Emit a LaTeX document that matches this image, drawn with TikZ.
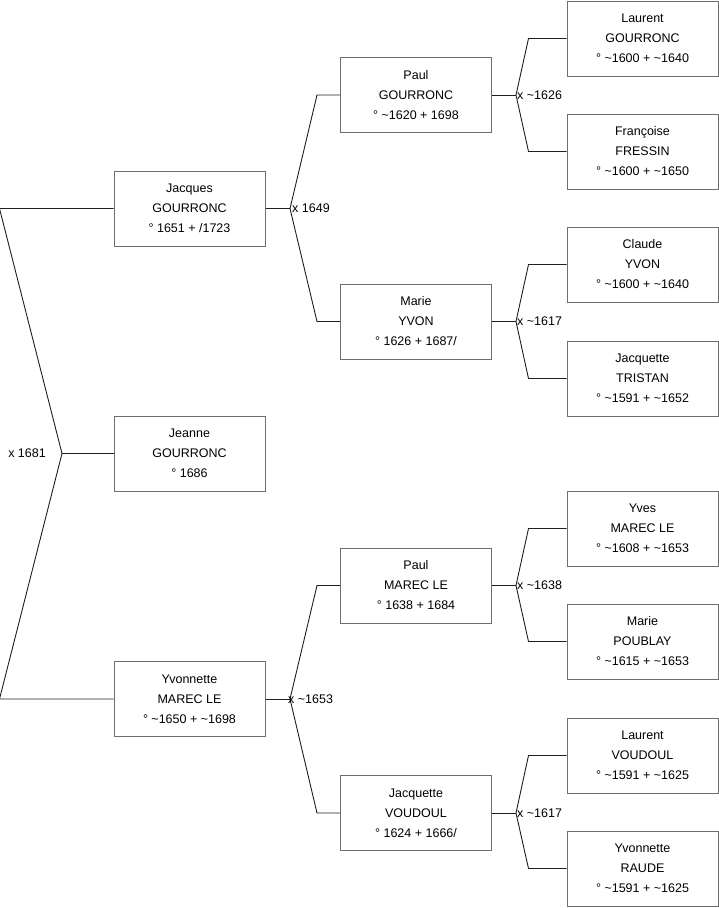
\documentclass[tikz,border=0pt]{standalone}
\usepackage{fontspec}
\setmainfont{Liberation Sans}
\usepackage{xcolor}
\usetikzlibrary{calc}
\definecolor{boxgray}{RGB}{110,110,110}
\definecolor{linegray}{RGB}{30,30,30}
\newcommand{\circa}{\textasciitilde}

\begin{document}
\begin{tikzpicture}[x=1pt, y=-1pt,
    person/.style={draw=boxgray, line width=1pt, fill=white, minimum width=151pt, minimum height=75pt,
                   align=center, font=\fontsize{12.5}{20}\selectfont, inner sep=0pt},
    link/.style={draw=linegray, line width=0.9pt},
    wed/.style={font=\fontsize{12.5}{15}\selectfont, inner sep=1pt}]
    \useasboundingbox (0,0) rectangle (719,908);

    % Generation 1
    \node[person] (jacques) at (189.5,208.5) {Jacques\\GOURRONC\\° 1651 + /1723};
    \node[person] (jeanne) at (189.5,453.5) {Jeanne\\GOURRONC\\° 1686};
    \node[person] (yvonnette) at (189.5,699) {Yvonnette\\MAREC LE\\° \circa1650 + \circa1698};

    % Generation 2
    \node[person] (paulg) at (416,95) {Paul\\GOURRONC\\° \circa1620 + 1698};
    \node[person] (mariey) at (416,321.5) {Marie\\YVON\\° 1626 + 1687/};
    \node[person] (paulm) at (416,585.5) {Paul\\MAREC LE\\° 1638 + 1684};
    \node[person] (jacquettev) at (416,813) {Jacquette\\VOUDOUL\\° 1624 + 1666/};

    % Generation 3
    \node[person] (laurentg) at (642.5,38.5) {Laurent\\GOURRONC\\° \circa1600 + \circa1640};
    \node[person] (francoise) at (642.5,151.5) {Françoise\\FRESSIN\\° \circa1600 + \circa1650};
    \node[person] (claude) at (642.5,264.5) {Claude\\YVON\\° \circa1600 + \circa1640};
    \node[person] (jacquettet) at (642.5,378.5) {Jacquette\\TRISTAN\\° \circa1591 + \circa1652};
    \node[person] (yves) at (642.5,528.5) {Yves\\MAREC LE\\° \circa1608 + \circa1653};
    \node[person] (mariep) at (642.5,641.5) {Marie\\POUBLAY\\° \circa1615 + \circa1653};
    \node[person] (laurentv) at (642.5,755.5) {Laurent\\VOUDOUL\\° \circa1591 + \circa1625};
    \node[person] (yvonnetter) at (642.5,868.5) {Yvonnette\\RAUDE\\° \circa1591 + \circa1625};

    % Marriage points
    \coordinate (m0) at (62,453.5);
    \coordinate (m1) at (290,208.5);
    \coordinate (m2) at (290,699);
    \coordinate (m11) at (516,95);
    \coordinate (m12) at (516,321.5);
    \coordinate (m21) at (516,585.5);
    \coordinate (m22) at (516,813);

    % Links
    \draw[link] (jacques.west) -- ++(-114,0) -- (m0) -- ($(yvonnette.west)+(-114,0)$) -- (yvonnette.west);
    \draw[link] (m0) -- (jeanne.west);

    \draw[link] (jacques.east) -- (m1);
    \draw[link] (paulg.west) -- ++(-23,0) -- (m1) -- ($(mariey.west)+(-23,0)$) -- (mariey.west);
    \draw[link] (yvonnette.east) -- (m2);
    \draw[link] (paulm.west) -- ++(-23,0) -- (m2) -- ($(jacquettev.west)+(-23,0)$) -- (jacquettev.west);

    \draw[link] (paulg.east) -- (m11);
    \draw[link] (laurentg.west) -- ++(-38,0) -- (m11) -- ($(francoise.west)+(-38,0)$) -- (francoise.west);
    \draw[link] (mariey.east) -- (m12);
    \draw[link] (claude.west) -- ++(-38,0) -- (m12) -- ($(jacquettet.west)+(-38,0)$) -- (jacquettet.west);
    \draw[link] (paulm.east) -- (m21);
    \draw[link] (yves.west) -- ++(-38,0) -- (m21) -- ($(mariep.west)+(-38,0)$) -- (mariep.west);
    \draw[link] (jacquettev.east) -- (m22);
    \draw[link] (laurentv.west) -- ++(-38,0) -- (m22) -- ($(yvonnetter.west)+(-38,0)$) -- (yvonnetter.west);

    % Labels
    \node[wed, anchor=east, xshift=-15pt] (w0) at (m0) {x 1681};
    \node[wed, anchor=west, xshift=1pt] (w1) at (m1) {x 1649};
    \node[wed, anchor=west, xshift=-3pt] (w2) at (m2) {x \circa1653};
    \node[wed, anchor=west] (w11) at (m11) {x \circa1626};
    \node[wed, anchor=west] (w12) at (m12) {x \circa1617};
    \node[wed, anchor=west] (w21) at (m21) {x \circa1638};
    \node[wed, anchor=west] (w22) at (m22) {x \circa1617};
\end{tikzpicture}
\end{document}
